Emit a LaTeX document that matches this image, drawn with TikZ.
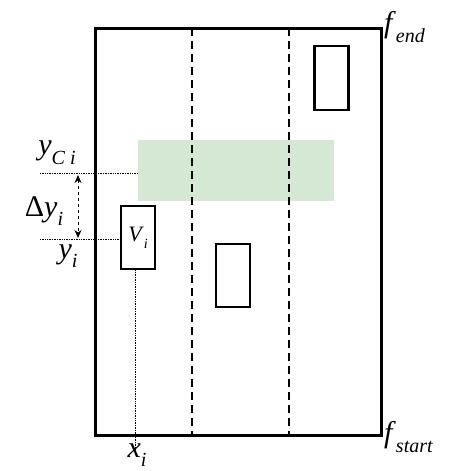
\documentclass[tikz,border=0pt]{standalone}
\usepackage{fontspec}
\setmainfont{Liberation Serif}
\usetikzlibrary{positioning, arrows.meta}
\definecolor{zonefill}{HTML}{d5e8d4}
\newcommand{\symsub}[2]{\textit{#1}\raisebox{-0.32em}{\fontsize{20}{22}\selectfont\textit{#2}}}
\tikzset{
    frame/.style={draw, line width=3pt},
    vehicle/.style={
        draw, line width=2.5pt, inner sep=0pt,
        minimum width=34pt, minimum height=63pt,
        font=\fontsize{22}{24}\selectfont,
    },
    zone/.style={fill=zonefill, draw=none, inner sep=0pt},
    lane/.style={line width=2.3pt, dash pattern=on 8pt off 5pt},
    guide/.style={densely dotted, line width=0.7pt},
    dimarrow/.style={{Stealth[length=8pt, width=7pt]}-{Stealth[length=8pt, width=7pt]}, dashed, line width=1pt},
    lbl/.style={font=\fontsize{30}{32}\selectfont, inner sep=1pt},
}

\begin{document}
\begin{tikzpicture}[x=1pt, y=-1pt]
\useasboundingbox (0,0) rectangle (453,471);

% ── Road frame and lanes ─────────────────────────────────────
\node[zone, minimum width=196pt, minimum height=61pt] (zone) at (236,170.5) {};
\draw[frame] (95.5,28) rectangle (381,435);
\coordinate (lanetopA) at (192,28);
\coordinate (lanebotA) at (192,435);
\coordinate (lanetopB) at (289,28);
\coordinate (lanebotB) at (289,435);
\draw[lane] (lanetopA) -- (lanebotA);
\draw[lane] (lanetopB) -- (lanebotB);

% ── Vehicles ─────────────────────────────────────────────────
\node[vehicle, minimum height=64pt] (vtop) at (331.5,78) {};
\node[vehicle] (vi) at (138,237.5) {\textit{V}\raisebox{-0.3em}{\fontsize{14}{16}\selectfont\textit{i}}};
\node[vehicle] (vmid) at (233,275.5) {};

% ── Guides ───────────────────────────────────────────────────
\coordinate (yc) at (40,173);
\coordinate (yv) at (40,239);
\coordinate (xv) at (135,455);
\draw[guide] (yc) -- (yc -| zone.west);
\draw[guide] (yv) -- (yv -| vi.west);
\draw[guide] (xv |- vi.south) -- (xv);
\coordinate (dtop) at (78,175);
\coordinate (dbot) at (78,238);
\draw[dimarrow] (dtop) -- (dbot);

% ── Labels ───────────────────────────────────────────────────
\node[lbl] (lyc) at (57,153) {\symsub{y}{C i}};
\node[lbl] (ldy) at (44,211) {Δ\symsub{y}{i}};
\node[lbl] (lyi) at (68,256) {\symsub{y}{i}};
\node[lbl] (lxi) at (137,455) {\symsub{x}{i}};
\node[lbl, anchor=west] (lend) at (383,27) {\symsub{f}{end}};
\node[lbl, anchor=west] (lstart) at (383,437) {\symsub{f}{start}};

\end{tikzpicture}
\end{document}
